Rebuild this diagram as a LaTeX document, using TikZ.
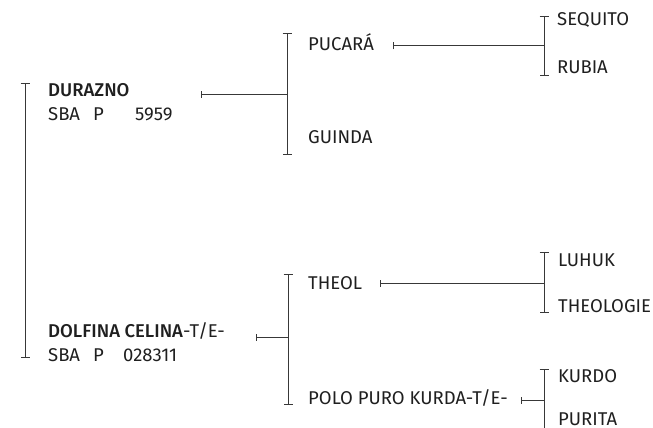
\documentclass[tikz,border=0pt]{standalone}
\usepackage{fontspec}
\setmainfont{Fira Sans}[BoldFont={Fira Sans Medium}]
\usetikzlibrary{arrows.meta}

\begin{document}
\begin{tikzpicture}[
    x=1pt, y=-1pt,
    horse/.style={anchor=base west, inner sep=0pt, text=black!88,
                  font=\fontsize{18.5}{24}\selectfont},
    pair/.style={anchor=west, inner sep=0pt, align=left, text=black!88,
                 font=\fontsize{18.5}{24}\selectfont},
    bracket/.style={{Bar[width=9pt]}-{Bar[width=9pt]}, draw=black!78, line width=1pt},
    link/.style={{Bar[width=7pt]}-, draw=black!78, line width=1pt}
]
\useasboundingbox (0,0) rectangle (653,428);

% generation 0
\node[pair] (durazno) at (48,102) {\textbf{DURAZNO}\\\makebox[45pt][l]{SBA}\makebox[42pt][l]{P}5959};
\node[pair] (dolfina) at (48,342) {\textbf{DOLFINA CELINA}-T/E-\\\makebox[45pt][l]{SBA}\makebox[30pt][l]{P}028311};

% generation 1
\node[horse] (pucara) at (308,51)  {PUCARÁ};
\node[horse] (guinda) at (308,143) {GUINDA};
\node[horse] (theol)  at (308,289) {THEOL};
\node[horse] (polo)   at (308,404) {POLO PURO KURDA-T/E-};

% generation 2
\node[horse] (sequito)   at (557,26)  {SEQUITO};
\node[horse] (rubia)     at (557,74)  {RUBIA};
\node[horse] (luhuk)     at (558,266) {LUHUK};
\node[horse] (theologie) at (558,312) {THEOLOGIE};
\node[horse] (kurdo)     at (558,382) {KURDO};
\node[horse] (purita)    at (558,425) {PURITA};

% brackets
\coordinate (root-top) at (25,83);  \coordinate (root-bot) at (25,358);
\coordinate (sire-top) at (287,33); \coordinate (sire-bot) at (287,155); \coordinate (sire-mid) at (287,94);
\coordinate (dam-top)  at (288,274);\coordinate (dam-bot)  at (288,405); \coordinate (dam-mid)  at (288,337);
\coordinate (ss-top)   at (544,16); \coordinate (ss-bot)   at (544,76);  \coordinate (ss-mid)   at (544,46);
\coordinate (ds-top)   at (544,252);\coordinate (ds-bot)   at (544,313); \coordinate (ds-mid)   at (544,283);
\coordinate (dd-top)   at (544,369);\coordinate (dd-bot)   at (544,431); \coordinate (dd-mid)   at (544,400);

\foreach \b in {root, sire, dam, ss, ds, dd}
    \draw[bracket] (\b-top) -- (\b-bot);

% links
\coordinate (durazno-out) at (201,94);
\coordinate (dolfina-out) at (256,337);
\coordinate (pucara-out)  at (393,46);
\coordinate (theol-out)   at (380,283);
\coordinate (polo-out)    at (521,400);

\foreach \a/\b in {durazno/sire, dolfina/dam, pucara/ss, theol/ds, polo/dd}
    \draw[link] (\a-out) -- (\b-mid);
\end{tikzpicture}
\end{document}
